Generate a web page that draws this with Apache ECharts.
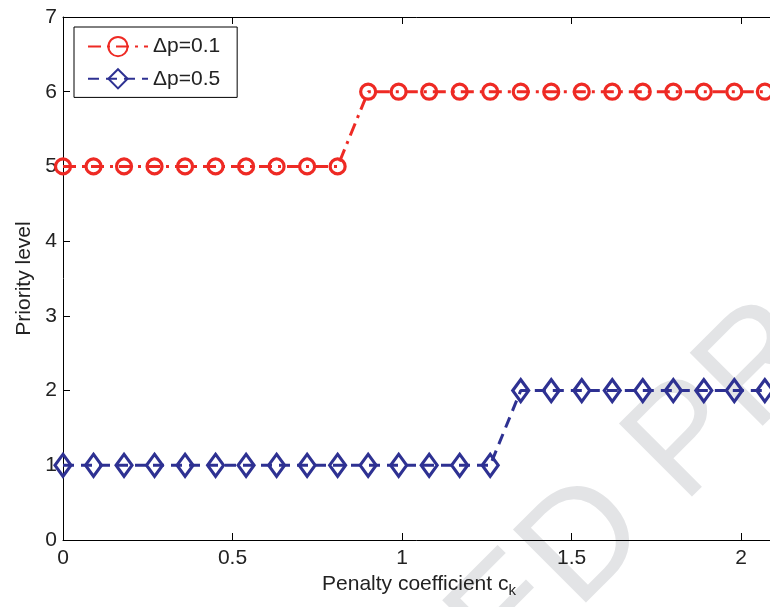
<!DOCTYPE html>
<html>
<head>
<meta charset="utf-8">
<script src="https://cdn.jsdelivr.net/npm/echarts@6/dist/echarts.min.js"></script>
<style>
html,body{margin:0;padding:0;background:#fff;}
#chart{width:770px;height:607px;}
</style>
</head>
<body>
<div id="chart"></div>
<script>
// ---- data ----
const xValues = [0, 0.09, 0.18, 0.27, 0.36, 0.45, 0.54, 0.63, 0.72, 0.81, 0.90, 0.99,
                 1.08, 1.17, 1.26, 1.35, 1.44, 1.53, 1.62, 1.71, 1.80, 1.89, 1.98, 2.07];
const seriesNames = ['\u0394p=0.1', '\u0394p=0.5'];
const dp01 = [5, 5, 5, 5, 5, 5, 5, 5, 5, 5, 6, 6, 6, 6, 6, 6, 6, 6, 6, 6, 6, 6, 6, 6];
const dp05 = [1, 1, 1, 1, 1, 1, 1, 1, 1, 1, 1, 1, 1, 1, 1, 2, 2, 2, 2, 2, 2, 2, 2, 2];
const yTicks = [0, 1, 2, 3, 4, 5, 6, 7];
const xTicks = [0, 0.5, 1, 1.5, 2];
const watermarkLeft = 'ACCEPTED ';
const watermarkRight = 'PROOF';

const FONT = "'Liberation Sans', Arial, Helvetica, sans-serif";
const RED = '#ee2a24';
const BLUE = '#2e3192';

const zip = (xs, ys) => xs.map((x, i) => [x, ys[i]]);

// watermark placement (decoration only)
const WM_FONT = "150px 'Liberation Sans', Arial, sans-serif";
const ctx = document.createElement('canvas').getContext('2d');
ctx.font = WM_FONT;
const wLeft = ctx.measureText(watermarkLeft).width;
const c45 = Math.SQRT1_2;
const pAnchor = [654, 476];
const wmX = pAnchor[0] - c45 * wLeft;
const wmY = pAnchor[1] + c45 * wLeft;

const chart = echarts.init(document.getElementById('chart'), null, {renderer: 'canvas'});

const axisCommon = {
  type: 'value',
  axisLine: {show: true, onZero: false, lineStyle: {color: '#000', width: 1}},
  axisTick: {show: true, inside: true, length: 7, lineStyle: {color: '#000', width: 1}},
  splitLine: {show: false}
};

const option = {
  backgroundColor: '#fff',
  animation: false,
  textStyle: {fontFamily: FONT},
  graphic: [{
    type: 'text',
    z: -10,
    silent: true,
    x: wmX, y: wmY,
    rotation: Math.PI / 4,
    style: {
      text: watermarkLeft + watermarkRight,
      fill: '#e3e4e6',
      font: WM_FONT,
      align: 'left',
      verticalAlign: 'middle'
    }
  }],
  grid: {left: 63, top: 17, right: -5, bottom: 67, containLabel: false, outerBoundsMode: 'none'},
  legend: {
    orient: 'vertical',
    left: 74, top: 27,
    padding: [9, 17, 8, 13],
    itemGap: 11,
    itemWidth: 60,
    itemHeight: 24,
    backgroundColor: '#fff',
    borderColor: '#000',
    borderWidth: 1,
    borderRadius: 0,
    textStyle: {fontFamily: FONT, fontSize: 21, color: '#222'},
    data: seriesNames
  },
  xAxis: [
    Object.assign({}, axisCommon, {
      position: 'bottom',
      min: 0, max: 2.1, interval: 0.5,
      axisLabel: {
        show: true, margin: 8, fontSize: 21, color: '#222', fontFamily: FONT,
        showMaxLabel: false,
        formatter: v => xTicks.includes(+(+v).toFixed(2)) ? String(v) : ''
      },
      name: 'Penalty coefficient c{sub|k}',
      nameLocation: 'middle',
      nameGap: 31,
      nameTextStyle: {
        fontSize: 21, color: '#222', fontFamily: FONT,
        rich: {sub: {fontSize: 15, color: '#222', fontFamily: FONT, verticalAlign: 'bottom', padding: [12, 0, 0, 0]}}
      }
    }),
    Object.assign({}, axisCommon, {
      position: 'top',
      min: 0, max: 2.1, interval: 0.5,
      axisLabel: {show: false}
    })
  ],
  yAxis: [
    Object.assign({}, axisCommon, {
      position: 'left',
      min: yTicks[0], max: yTicks[yTicks.length - 1], interval: 1,
      axisLabel: {show: true, margin: 6, fontSize: 21, color: '#222', fontFamily: FONT},
      name: 'Priority level',
      nameLocation: 'middle',
      nameGap: 27,
      nameTextStyle: {fontSize: 21, color: '#222', fontFamily: FONT}
    })
  ],
  series: [
    {
      name: seriesNames[0],
      type: 'line',
      xAxisIndex: 0, yAxisIndex: 0,
      data: zip(xValues, dp01),
      symbol: 'circle',
      symbolSize: 15,
      showAllSymbol: true,
      clip: false,
      z: 3,
      lineStyle: {color: RED, width: 3, type: [13, 6, 3, 6]},
      itemStyle: {color: 'rgba(255,255,255,0)', borderColor: RED, borderWidth: 3.2}
    },
    {
      name: seriesNames[1],
      type: 'line',
      xAxisIndex: 0, yAxisIndex: 0,
      data: zip(xValues, dp05),
      symbol: 'diamond',
      symbolSize: [16, 22],
      showAllSymbol: true,
      clip: false,
      z: 3,
      lineStyle: {color: BLUE, width: 3, type: [11, 7]},
      itemStyle: {color: 'rgba(255,255,255,0)', borderColor: BLUE, borderWidth: 3.2}
    }
  ]
};

chart.setOption(option);
</script>
</body>
</html>
